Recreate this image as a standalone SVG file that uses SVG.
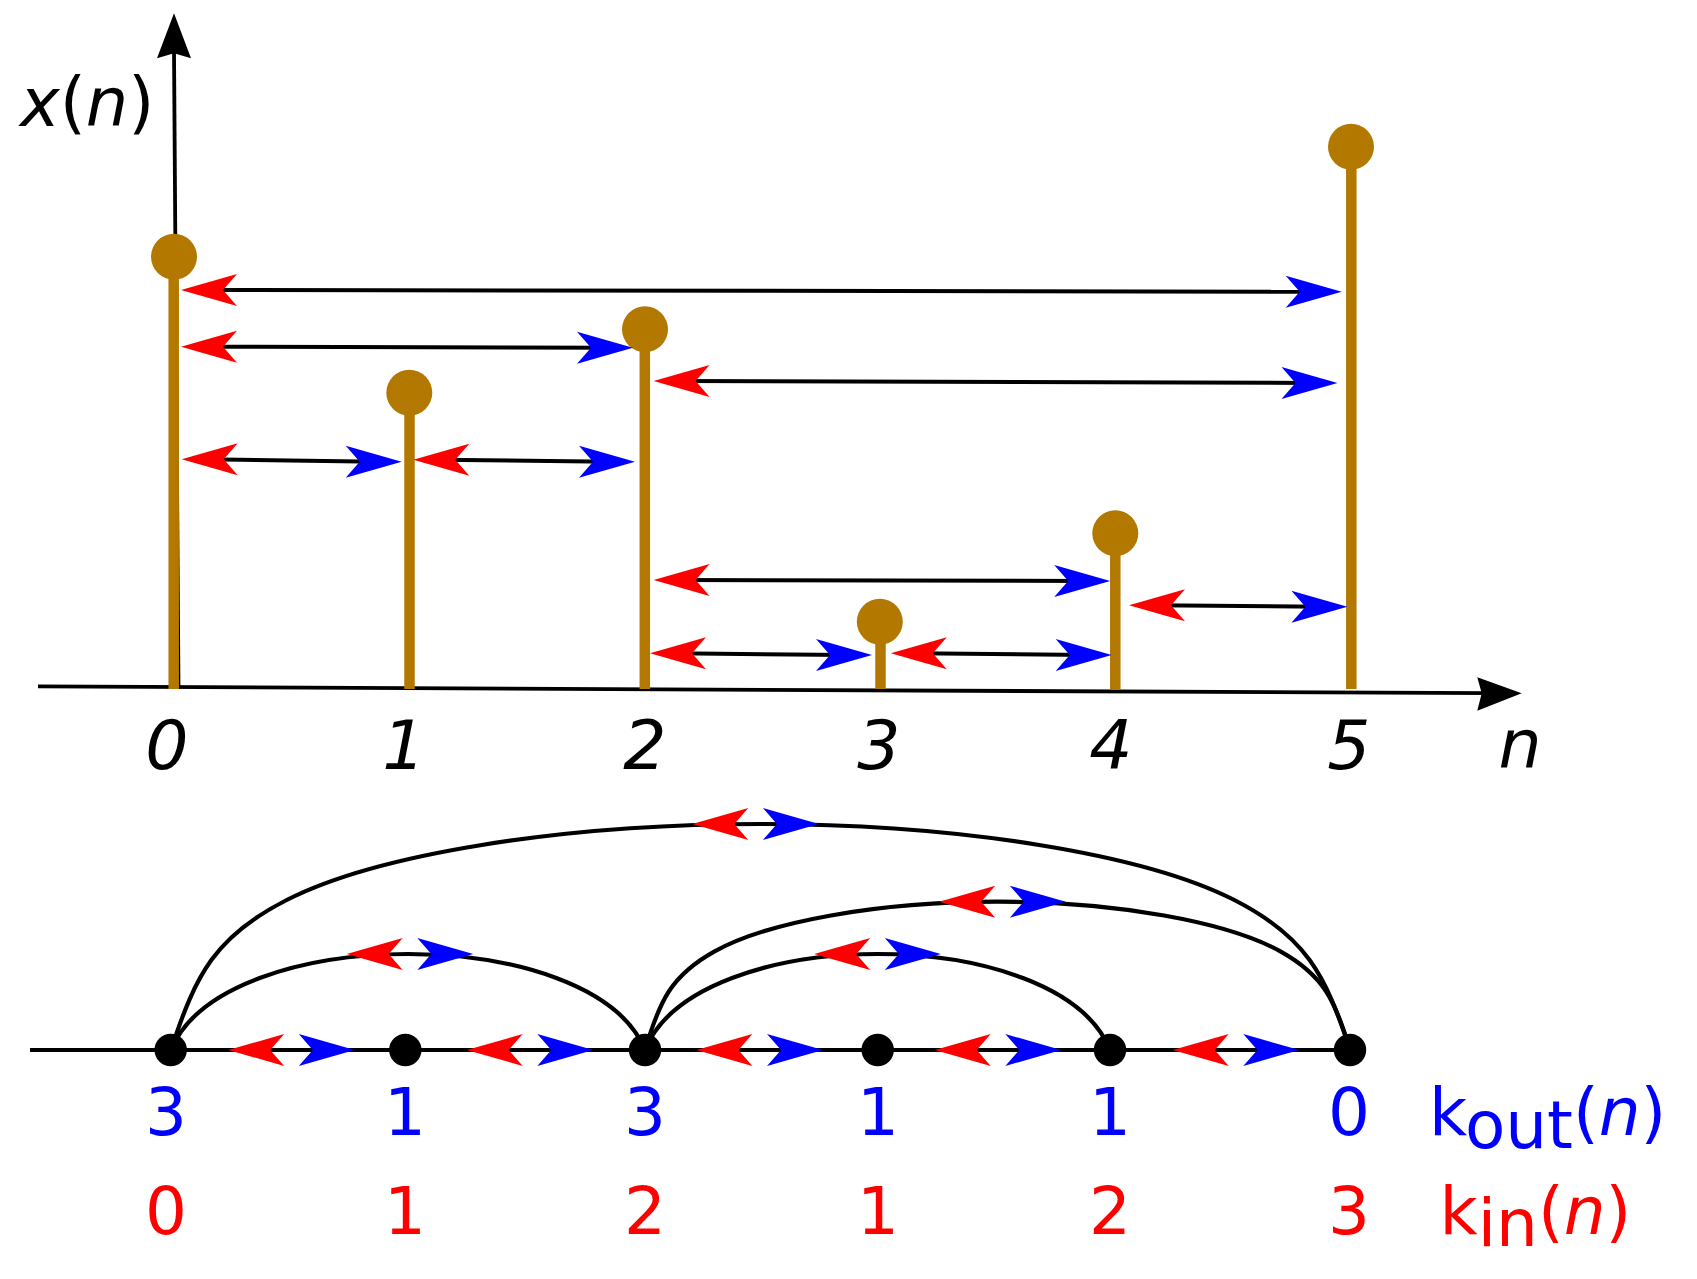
<svg xmlns="http://www.w3.org/2000/svg" xmlns:xlink="http://www.w3.org/1999/xlink" width="1697" height="1279" viewBox="0 0 1697 1279">
<defs>
<style>
.ax{stroke:#000;stroke-width:3.8;fill:none}
.ln{stroke:#000;stroke-width:4;fill:none}
.arc{stroke:#000;stroke-width:4.2;fill:none}
.stem{stroke:#b37800;stroke-width:10.5}
.dot{fill:#b37800}
.node{fill:#000}
.red{fill:#ff0000}
.blue{fill:#0000ff}
text{font-family:"DejaVu Sans","Liberation Sans",sans-serif}
.it{font-style:italic}
.tick{font-size:68px;font-style:italic;text-anchor:middle;fill:#000}
.kout{font-size:66px;text-anchor:middle;fill:#0000ff}
.kin{font-size:66px;text-anchor:middle;fill:#ff0000}
</style>
<polygon id="L" points="0,0 56,-16 42,0 56,16"/>
<polygon id="R" points="0,0 -56,-16 -42,0 -56,16"/>
</defs>
<rect width="1697" height="1279" fill="#fff"/>

<g id="axes">
<line class="ax" x1="38" y1="686.4" x2="1490" y2="693.2"/>
<polygon points="1521.7,693.3 1477.3,677.3 1481.7,693.3 1477.3,710.7" fill="#000"/>
<line class="ax" x1="178.5" y1="689" x2="174" y2="50"/>
<polygon points="174,13.3 191,58.3 174,53.3 157,58.3" fill="#000"/>
<text x="20" y="126" font-size="67" fill="#000"><tspan class="it">x</tspan>(<tspan class="it">n</tspan>)</text>
</g>

<g id="stem0"><line class="stem" x1="173.7" y1="256.7" x2="173.7" y2="689"/><circle class="dot" cx="174" cy="256.7" r="23"/></g>
<g id="stem1"><line class="stem" x1="409.5" y1="392.7" x2="409.5" y2="689"/><circle class="dot" cx="409.3" cy="392.7" r="23"/></g>
<g id="stem2"><line class="stem" x1="644.8" y1="329.3" x2="644.8" y2="689"/><circle class="dot" cx="645" cy="329.3" r="23"/></g>
<g id="stem3"><line class="stem" x1="880.5" y1="621.7" x2="880.5" y2="689"/><circle class="dot" cx="879.8" cy="621.7" r="23"/></g>
<g id="stem4"><line class="stem" x1="1115.3" y1="533.3" x2="1115.3" y2="689"/><circle class="dot" cx="1115.3" cy="533.3" r="23"/></g>
<g id="stem5"><line class="stem" x1="1351.3" y1="146.7" x2="1351.3" y2="689"/><circle class="dot" cx="1351" cy="146.7" r="23"/></g>

<g id="top-connectors">
<line class="ln" x1="205" y1="290" x2="1318" y2="291.7"/>
<use xlink:href="#L" class="red" x="181" y="290"/><use xlink:href="#R" class="blue" x="1341.7" y="291.7"/>
<line class="ln" x1="205" y1="346.7" x2="609" y2="347.7"/>
<use xlink:href="#L" class="red" x="181" y="346.7"/><use xlink:href="#R" class="blue" x="633" y="347.7"/>
<line class="ln" x1="677" y1="381" x2="1313" y2="383"/>
<use xlink:href="#L" class="red" x="653.6" y="381"/><use xlink:href="#R" class="blue" x="1337.5" y="383"/>
<line class="ln" x1="205" y1="459.3" x2="378" y2="461.7"/>
<use xlink:href="#L" class="red" x="181.7" y="459.3"/><use xlink:href="#R" class="blue" x="401.7" y="461.7"/>
<line class="ln" x1="437" y1="459.7" x2="611" y2="461.7"/>
<use xlink:href="#L" class="red" x="413.3" y="459.7"/><use xlink:href="#R" class="blue" x="635" y="461.7"/>
<line class="ln" x1="677" y1="580" x2="1086" y2="581"/>
<use xlink:href="#L" class="red" x="653.6" y="580"/><use xlink:href="#R" class="blue" x="1110.2" y="581"/>
<line class="ln" x1="1152" y1="605.3" x2="1323" y2="606.7"/>
<use xlink:href="#L" class="red" x="1129" y="605.3"/><use xlink:href="#R" class="blue" x="1347.4" y="606.7"/>
<line class="ln" x1="674" y1="653.3" x2="848" y2="655"/>
<use xlink:href="#L" class="red" x="650" y="653.3"/><use xlink:href="#R" class="blue" x="872" y="655"/>
<line class="ln" x1="914" y1="653.3" x2="1088" y2="655"/>
<use xlink:href="#L" class="red" x="890.8" y="653.3"/><use xlink:href="#R" class="blue" x="1111.7" y="655"/>
</g>

<g id="tick-labels">
<text class="tick" x="167" y="769">0</text>
<text class="tick" x="404" y="769">1</text>
<text class="tick" x="645" y="769">2</text>
<text class="tick" x="879" y="769">3</text>
<text class="tick" x="1111" y="769">4</text>
<text class="tick" x="1349" y="768.5">5</text>
<text class="tick" x="1520" y="768">n</text>
</g>

<g id="graph-connectors">
<line class="ln" x1="30" y1="1050" x2="1350" y2="1050"/>
<path class="arc" d="M171,1050 C195.7,973.9 215.4,936.3 286.7,900 C375.8,854.6 560,824 760.5,824 C961,824 1145.2,854.6 1234.3,900 C1305.6,936.3 1325.3,973.9 1350,1050"/>
<path class="arc" d="M645,1050 C659.8,1000.1 671.5,975.4 714.2,951.6 C767.5,921.8 877.9,901.7 997.5,901.7 C1117.1,901.7 1227.5,921.8 1280.8,951.6 C1323.5,975.4 1335.2,1000.1 1350,1050"/>
<path class="arc" d="M171,1050 C223.1,922 592.9,922 645,1050"/>
<path class="arc" d="M645,1050 C696.2,922 1058.8,922 1110,1050"/>
<use xlink:href="#L" class="red" x="228.2" y="1050"/><use xlink:href="#R" class="blue" x="354.8" y="1050"/>
<use xlink:href="#L" class="red" x="466.7" y="1050"/><use xlink:href="#R" class="blue" x="593.3" y="1050"/>
<use xlink:href="#L" class="red" x="696.4" y="1050"/><use xlink:href="#R" class="blue" x="823" y="1050"/>
<use xlink:href="#L" class="red" x="934.7" y="1050"/><use xlink:href="#R" class="blue" x="1061.3" y="1050"/>
<use xlink:href="#L" class="red" x="1172.7" y="1050"/><use xlink:href="#R" class="blue" x="1299.3" y="1050"/>
<use xlink:href="#L" class="red" x="346.7" y="954"/><use xlink:href="#R" class="blue" x="473.3" y="954"/>
<use xlink:href="#L" class="red" x="692.3" y="824"/><use xlink:href="#R" class="blue" x="818.9" y="824"/>
<use xlink:href="#L" class="red" x="939.2" y="901.7"/><use xlink:href="#R" class="blue" x="1065.8" y="901.7"/>
<use xlink:href="#L" class="red" x="814.2" y="954"/><use xlink:href="#R" class="blue" x="940.8" y="954"/>
</g>

<g id="node0"><circle class="node" cx="170.7" cy="1050" r="16.2"/><text class="kout" x="166" y="1135">3</text><text class="kin" x="166" y="1234">0</text></g>
<g id="node1"><circle class="node" cx="405.3" cy="1050" r="16.2"/><text class="kout" x="405" y="1135">1</text><text class="kin" x="405" y="1234">1</text></g>
<g id="node2"><circle class="node" cx="645" cy="1050" r="16.2"/><text class="kout" x="645" y="1135">3</text><text class="kin" x="645" y="1234">2</text></g>
<g id="node3"><circle class="node" cx="877.7" cy="1050" r="16.2"/><text class="kout" x="878" y="1135">1</text><text class="kin" x="878" y="1234">1</text></g>
<g id="node4"><circle class="node" cx="1110" cy="1050" r="16.2"/><text class="kout" x="1110" y="1135">1</text><text class="kin" x="1110" y="1234">2</text></g>
<g id="node5"><circle class="node" cx="1350" cy="1050" r="16.2"/><text class="kout" x="1349" y="1135">0</text><text class="kin" x="1349" y="1234">3</text></g>

<g id="legend">
<text x="1429" y="1135" font-size="66" fill="#0000ff">k<tspan dy="13">out</tspan><tspan dy="-13">(</tspan><tspan class="it">n</tspan>)</text>
<text x="1439.5" y="1234" font-size="66" fill="#ff0000">k<tspan dy="12">in</tspan><tspan dy="-12">(</tspan><tspan class="it">n</tspan>)</text>
</g>
</svg>
